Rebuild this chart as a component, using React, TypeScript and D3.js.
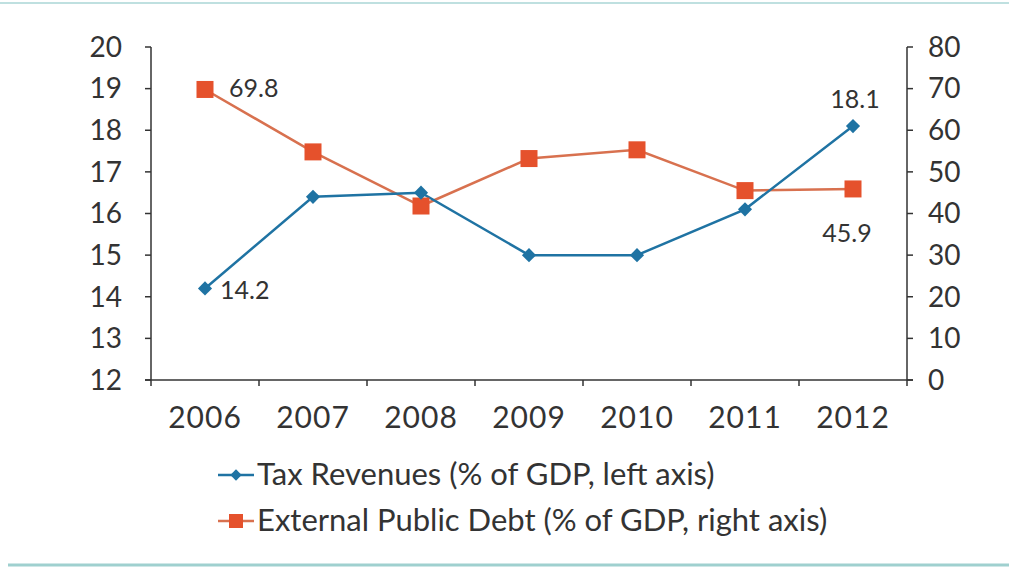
import React from "react";
import * as d3 from "d3";

const years = ["2006", "2007", "2008", "2009", "2010", "2011", "2012"];
const taxRevenues = [14.2, 16.4, 16.5, 15.0, 15.0, 16.1, 18.1];
const externalDebt = [69.8, 54.8, 41.8, 53.2, 55.3, 45.5, 45.9];
const leftTicks = [12, 13, 14, 15, 16, 17, 18, 19, 20];
const rightTicks = [0, 10, 20, 30, 40, 50, 60, 70, 80];
const legendLabels = [
  "Tax Revenues (% of GDP, left axis)",
  "External Public Debt (% of GDP, right axis)",
];

const W = 1009;
const H = 567;
const FONT = "Lato, 'Open Sans', sans-serif";
const TEXT = "#333";
const AXIS = "#333";
const BLUE = "#1f73a3";
const ORANGE_LINE = "#d8714f";
const ORANGE_MARK = "#e5512c";

export default function App() {
  const left = 151, right = 907, top = 47, bottom = 380;
  const x = d3.scaleBand<string>().domain(years).range([left, right]);
  const yL = d3.scaleLinear().domain([12, 20]).range([bottom, top]);
  const yR = d3.scaleLinear().domain([0, 80]).range([bottom, top]);
  const cx = (y: string) => (x(y) ?? 0) + x.bandwidth() / 2;

  const taxLine = d3.line<number>().x((_, i) => cx(years[i])).y((d) => yL(d))(taxRevenues) ?? "";
  const debtLine = d3.line<number>().x((_, i) => cx(years[i])).y((d) => yR(d))(externalDebt) ?? "";

  const boundaries = years.map((y) => x(y) ?? 0).concat([right]);

  return (
    <svg width={W} height={H} style={{ position: "absolute", left: 0, top: 0, background: "#fff" }}>
      <rect x={0} y={0} width={W} height={H} fill="#fff" />
      <line x1={0} x2={W} y1={3} y2={3} stroke="#bfe0e0" strokeWidth={2} />
      <line x1={8} x2={W} y1={565} y2={565} stroke="#9fd0cf" strokeWidth={3} />

      {/* axes */}
      <line x1={left} x2={left} y1={top} y2={bottom} stroke={AXIS} strokeWidth={1.5} />
      <line x1={right} x2={right} y1={top} y2={bottom} stroke={AXIS} strokeWidth={1.5} />
      <line x1={left - 6} x2={right + 6} y1={bottom} y2={bottom} stroke={AXIS} strokeWidth={1.5} />
      {leftTicks.map((t) => (
        <g key={"l" + t}>
          <line x1={left - 6} x2={left} y1={yL(t)} y2={yL(t)} stroke={AXIS} strokeWidth={1.5} />
          <text x={122} y={yL(t)} dy="0.35em" textAnchor="end" fontSize={28} fontFamily={FONT} fill={TEXT}>
            {t}
          </text>
        </g>
      ))}
      {rightTicks.map((t) => (
        <g key={"r" + t}>
          <line x1={right} x2={right + 6} y1={yR(t)} y2={yR(t)} stroke={AXIS} strokeWidth={1.5} />
          <text x={928} y={yR(t)} dy="0.35em" textAnchor="start" fontSize={28} fontFamily={FONT} fill={TEXT}>
            {t}
          </text>
        </g>
      ))}
      {boundaries.map((b, i) => (
        <line key={"b" + i} x1={b} x2={b} y1={bottom} y2={bottom + 6} stroke={AXIS} strokeWidth={1.5} />
      ))}
      {years.map((y) => (
        <text key={y} x={cx(y)} y={417} dy="0.35em" textAnchor="middle" fontSize={30} fontFamily={FONT} fill={TEXT} letterSpacing={1}>
          {y}
        </text>
      ))}

      {/* series */}
      <path d={debtLine} fill="none" stroke={ORANGE_LINE} strokeWidth={2.5} />
      <path d={taxLine} fill="none" stroke={BLUE} strokeWidth={2.5} />
      {externalDebt.map((d, i) => (
        <rect key={"d" + i} x={cx(years[i]) - 8.5} y={yR(d) - 8.5} width={17} height={17} fill={ORANGE_MARK} />
      ))}
      {taxRevenues.map((d, i) => (
        <rect
          key={"t" + i}
          x={-5}
          y={-5}
          width={10}
          height={10}
          fill={BLUE}
          transform={`translate(${cx(years[i])},${yL(d)}) rotate(45)`}
        />
      ))}

      {/* value labels */}
      <text x={229} y={yR(externalDebt[0]) - 1} dy="0.35em" fontSize={25} fontFamily={FONT} fill={TEXT}>
        {externalDebt[0].toFixed(1)}
      </text>
      <text x={220} y={yL(taxRevenues[0]) + 2} dy="0.35em" fontSize={25} fontFamily={FONT} fill={TEXT}>
        {taxRevenues[0].toFixed(1)}
      </text>
      <text x={cx(years[6]) + 2} y={yL(taxRevenues[6]) - 27} dy="0.35em" textAnchor="middle" fontSize={25} fontFamily={FONT} fill={TEXT}>
        {taxRevenues[6].toFixed(1)}
      </text>
      <text x={cx(years[6]) - 6} y={yR(externalDebt[6]) + 44} dy="0.35em" textAnchor="middle" fontSize={25} fontFamily={FONT} fill={TEXT}>
        {externalDebt[6].toFixed(1)}
      </text>

      {/* legend */}
      <g>
        <line x1={218} x2={254} y1={475} y2={475} stroke={BLUE} strokeWidth={2.5} />
        <rect x={-4} y={-4} width={8} height={8} fill={BLUE} transform={`translate(236,475) rotate(45)`} />
        <text x={257} y={474} dy="0.35em" fontSize={31} fontFamily={FONT} fill={TEXT}>
          {legendLabels[0]}
        </text>
        <line x1={218} x2={254} y1={521} y2={521} stroke={ORANGE_LINE} strokeWidth={2.5} />
        <rect x={229} y={514} width={14} height={14} fill={ORANGE_MARK} />
        <text x={257} y={520} dy="0.35em" fontSize={31} fontFamily={FONT} fill={TEXT}>
          {legendLabels[1]}
        </text>
      </g>
    </svg>
  );
}
